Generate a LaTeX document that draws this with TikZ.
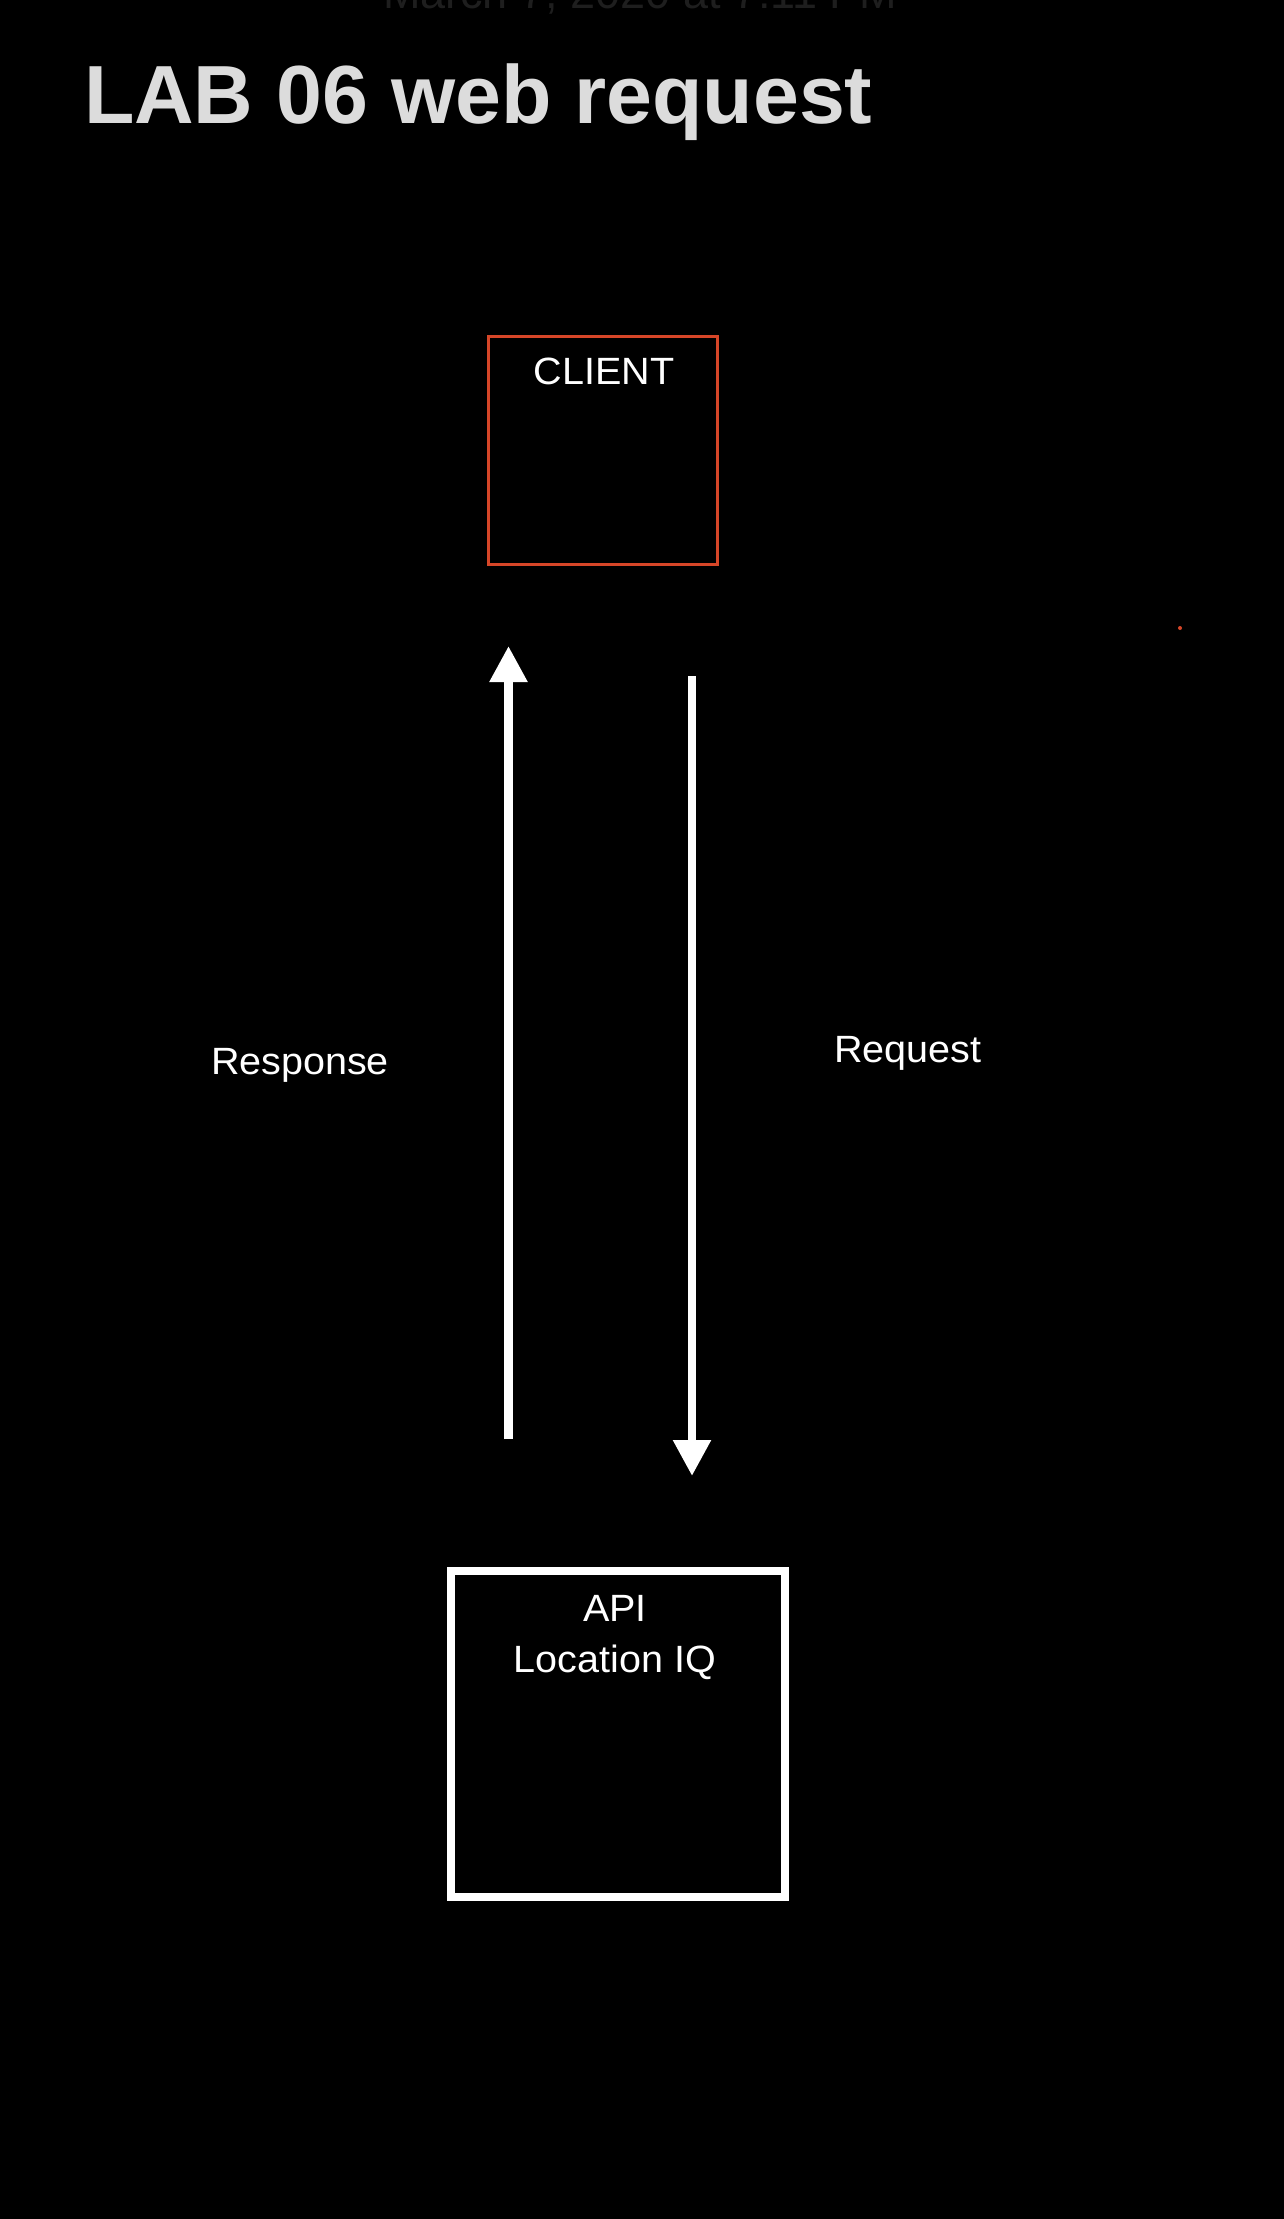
\documentclass[tikz,border=0pt]{standalone}
\usepackage{fontspec}
\setmainfont{Liberation Sans}
\newfontfamily\lblfont[FakeStretch=1.04]{Liberation Sans}
\usetikzlibrary{arrows.meta}
\definecolor{clientred}{RGB}{214,70,40}
\definecolor{titlegray}{RGB}{220,220,220}
\definecolor{dategray}{RGB}{30,30,30}

\begin{document}
\begin{tikzpicture}[%
    x=1pt, y=-1pt,
    every node/.style = {inner sep=0pt, outer sep=0pt, text=white},
    lbl/.style = {font=\lblfont\fontsize{38}{51}\selectfont},
    box/.style = {draw, rectangle},
    flow/.style = {draw=white, line width=8.5pt, -{Triangle[length=36pt, width=36pt]}}
]
\fill[black] (0,0) rectangle (1284,2219);
\useasboundingbox (0,0) rectangle (1284,2219);

% header
\node (date) [anchor=base west, text=dategray, font=\fontsize{45}{54}\selectfont]
    at (383,9) {March 7, 2020 at 7:11 PM};
\node (title) [anchor=base west, text=titlegray, font=\fontsize{82.5}{96}\selectfont\bfseries]
    at (84,123) {LAB 06 web request};

% boxes
\node (client) [box, draw=clientred, line width=3pt, minimum width=229pt, minimum height=228pt]
    at (602.5,450) {};
\node (clientlbl) [lbl, anchor=base] at (604,384) {CLIENT};
\node (api) [box, draw=white, line width=8pt, minimum width=334pt, minimum height=325.5pt]
    at (618,1734) {};
\node (apilbl) [lbl, anchor=north, align=center] at (615,1595) {API\\Location IQ};

% connectors
\coordinate (resp-s) at (508.5,1439);
\coordinate (resp-e) at (508.5,646);
\coordinate (req-s) at (692,676);
\coordinate (req-e) at (692,1476);
\draw[flow] (resp-s) -- (resp-e);
\draw[flow] (req-s) -- (req-e);
\node (resplbl) [lbl, anchor=base west] at (211,1074) {Response};
\node (reqlbl) [lbl, anchor=base west] at (834,1062) {Request};

\fill[clientred] (1180,628) circle (2pt);
\end{tikzpicture}
\end{document}
